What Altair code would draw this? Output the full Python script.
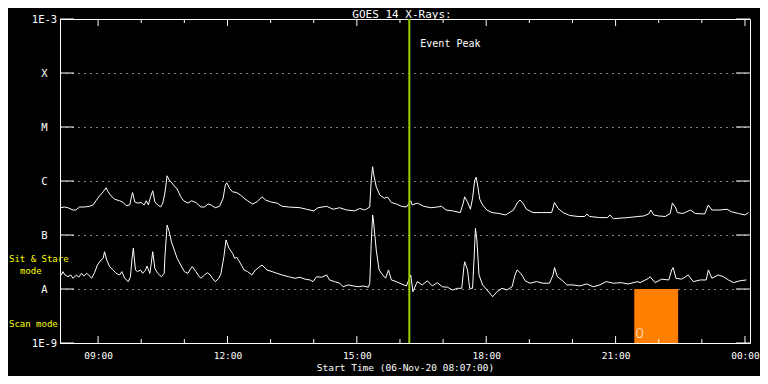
import altair as alt
import pandas as pd

START = pd.Timestamp("2020-11-06 08:07:00")

# Long channel (upper curve): minutes after start, flux in W/m^2
upper_minutes = [
    1, 6, 11, 18, 22, 27, 34, 41, 46, 50,
    55, 60, 64, 67, 71, 76, 83, 88, 92, 97,
    99, 101, 104, 108, 113, 117, 120, 123, 126, 129,
    132, 136, 140, 143, 146, 149, 152, 157, 158, 163,
    168, 172, 178, 183, 189, 196, 201, 206, 210, 216,
    222, 227, 230, 232, 236, 240, 246, 251, 256, 261,
    268, 274, 281, 286, 293, 302, 309, 318, 334, 343,
    353, 359, 371, 380, 389, 399, 410, 417, 424, 431,
    433, 435, 436, 440, 445, 451, 456, 461, 468, 475,
    482, 488, 490, 497, 506, 516, 525, 531, 537, 546,
    557, 561, 563, 567, 571, 574, 577, 579, 581, 584,
    588, 594, 601, 611, 620, 627, 631, 636, 640, 644,
    649, 658, 670, 684, 688, 693, 700, 709, 721, 730,
    733, 737, 751, 762, 765, 770, 779, 790, 804, 812,
    819, 822, 826, 833, 842, 849, 852, 856, 859, 867,
    877, 884, 897, 902, 907, 918, 928, 934, 944, 953, 958,
]
upper_flux = [
    3.2e-7, 3.3e-7, 3.2e-7, 2.9e-7, 2.9e-7, 3.3e-7, 3.3e-7, 3.4e-7, 3.6e-7, 4.3e-7,
    5.3e-7, 6.3e-7, 7.5e-7, 6.3e-7, 5.3e-7, 4.6e-7, 4.3e-7, 4.0e-7, 3.5e-7, 3.6e-7,
    4.8e-7, 6.1e-7, 4.1e-7, 3.9e-7, 4.0e-7, 3.6e-7, 4.3e-7, 3.6e-7, 5.1e-7, 6.6e-7,
    4.1e-7, 3.6e-7, 3.3e-7, 3.9e-7, 6.0e-7, 1.25e-6, 1.04e-6, 8.8e-7, 8.4e-7, 7.1e-7,
    5.1e-7, 4.3e-7, 3.9e-7, 4.3e-7, 4.0e-7, 3.3e-7, 3.3e-7, 3.75e-7, 3.6e-7, 3.2e-7,
    3.4e-7, 4.8e-7, 8.4e-7, 9.3e-7, 7.3e-7, 6.3e-7, 6.1e-7, 5.5e-7, 4.8e-7, 4.3e-7,
    3.75e-7, 4.1e-7, 5.1e-7, 4.45e-7, 4.1e-7, 3.9e-7, 3.4e-7, 3.3e-7, 3.2e-7, 3.0e-7,
    2.8e-7, 3.2e-7, 3.4e-7, 3.0e-7, 3.2e-7, 2.9e-7, 2.8e-7, 3.1e-7, 2.9e-7, 3.3e-7,
    1.04e-6, 1.84e-6, 1.42e-6, 7.8e-7, 5.5e-7, 4.8e-7, 5.0e-7, 4.0e-7, 3.75e-7, 3.4e-7,
    3.3e-7, 4.3e-7, 3.6e-7, 3.9e-7, 3.4e-7, 3.2e-7, 3.3e-7, 3.4e-7, 2.9e-7, 2.8e-7,
    2.6e-7, 3.9e-7, 5.1e-7, 4.1e-7, 3.0e-7, 4.8e-7, 1.04e-6, 1.17e-6, 8.4e-7, 4.6e-7,
    3.6e-7, 2.9e-7, 2.6e-7, 2.5e-7, 2.35e-7, 2.7e-7, 2.9e-7, 3.9e-7, 4.45e-7, 3.9e-7,
    3.0e-7, 2.6e-7, 2.6e-7, 2.6e-7, 4.0e-7, 3.1e-7, 2.6e-7, 2.3e-7, 2.2e-7, 2.2e-7,
    2.45e-7, 2.2e-7, 2.1e-7, 2.1e-7, 2.35e-7, 2.0e-7, 2.05e-7, 2.1e-7, 2.2e-7, 2.25e-7,
    2.45e-7, 2.9e-7, 2.35e-7, 2.25e-7, 2.2e-7, 2.5e-7, 3.9e-7, 3.3e-7, 2.6e-7, 2.5e-7,
    2.9e-7, 2.5e-7, 2.45e-7, 3.6e-7, 2.9e-7, 2.9e-7, 3.0e-7, 2.7e-7, 2.5e-7, 2.35e-7, 2.6e-7,
]

# Short channel (lower curve)
lower_minutes = [
    2, 4, 7, 11, 15, 18, 23, 26, 30, 33,
    37, 40, 44, 48, 52, 57, 60, 62, 65, 69,
    74, 78, 83, 86, 90, 95, 98, 100, 102, 105,
    108, 112, 115, 119, 121, 125, 127, 129, 132, 136,
    141, 145, 146, 149, 152, 155, 159, 163, 168, 173,
    178, 182, 184, 189, 193, 196, 201, 205, 209, 212,
    216, 221, 224, 228, 231, 235, 240, 243, 246, 251,
    256, 261, 267, 272, 281, 288, 295, 302, 309, 318,
    327, 334, 341, 348, 352, 357, 364, 371, 375, 382,
    389, 394, 401, 408, 415, 422, 429, 431, 433, 435,
    436, 440, 444, 449, 453, 457, 461, 468, 475, 482,
    488, 491, 497, 504, 511, 518, 525, 532, 539, 546,
    553, 559, 562, 563, 567, 570, 574, 576, 578, 580,
    583, 588, 594, 602, 608, 615, 622, 629, 633, 636,
    641, 644, 647, 654, 663, 672, 681, 686, 688, 692,
    698, 705, 714, 723, 733, 742, 751, 760, 770, 781,
    790, 804, 807, 819, 821, 828, 837, 847, 851, 853,
    857, 865, 874, 881, 891, 899, 902, 907, 916, 923,
    930, 937, 946, 955,
]
lower_flux = [
    1.82e-8, 2.1e-8, 1.82e-8, 1.69e-8, 1.82e-8, 1.58e-8, 1.82e-8, 1.65e-8, 1.95e-8, 1.74e-8,
    1.95e-8, 1.82e-8, 1.58e-8, 2.0e-8, 2.78e-8, 3.44e-8, 3.7e-8, 4.9e-8, 3.44e-8, 2.6e-8,
    2.25e-8, 1.95e-8, 1.82e-8, 2.1e-8, 1.58e-8, 1.37e-8, 1.69e-8, 3.44e-8, 5.7e-8, 2.25e-8,
    2.1e-8, 2.25e-8, 1.95e-8, 2.25e-8, 2.67e-8, 1.95e-8, 3.0e-8, 4.9e-8, 2.4e-8, 1.95e-8,
    1.69e-8, 1.95e-8, 3.97e-8, 1.53e-7, 1.15e-7, 7.5e-8, 5.27e-8, 3.7e-8, 2.78e-8, 2.1e-8,
    1.95e-8, 2.4e-8, 2.6e-8, 2.1e-8, 1.74e-8, 1.58e-8, 1.82e-8, 2.0e-8, 1.82e-8, 1.58e-8,
    1.37e-8, 1.58e-8, 1.95e-8, 3.97e-8, 8.1e-8, 5.7e-8, 4.6e-8, 3.7e-8, 3.86e-8, 3.0e-8,
    2.25e-8, 2.1e-8, 1.82e-8, 2.25e-8, 2.78e-8, 2.25e-8, 2.1e-8, 1.95e-8, 1.82e-8, 1.69e-8,
    1.58e-8, 1.65e-8, 1.52e-8, 1.47e-8, 1.37e-8, 1.69e-8, 1.65e-8, 1.82e-8, 1.47e-8, 1.37e-8,
    1.28e-8, 1.1e-8, 1.19e-8, 1.14e-8, 1.1e-8, 1.14e-8, 1.08e-8, 1.28e-8, 7.0e-8, 2.34e-7,
    1.9e-7, 5.27e-8, 2.25e-8, 1.82e-8, 1.58e-8, 2.25e-8, 1.47e-8, 1.37e-8, 1.24e-8, 1.14e-8,
    1.82e-8, 8.9e-9, 1.37e-8, 1.19e-8, 1.42e-8, 1.14e-8, 1.31e-8, 1.1e-8, 1.08e-8, 9.6e-9,
    1.03e-8, 1.03e-8, 2.6e-8, 3.2e-8, 2.25e-8, 1.03e-8, 1.03e-8, 3.44e-8, 1.33e-7, 8.1e-8,
    1.82e-8, 1.19e-8, 9.6e-9, 7.2e-9, 8.9e-9, 1.03e-8, 9.6e-9, 1.1e-8, 1.82e-8, 2.25e-8,
    1.95e-8, 1.69e-8, 1.42e-8, 1.28e-8, 1.37e-8, 1.28e-8, 1.28e-8, 1.82e-8, 2.5e-8, 1.69e-8,
    1.47e-8, 1.19e-8, 1.19e-8, 1.14e-8, 1.24e-8, 1.1e-8, 1.19e-8, 1.37e-8, 1.28e-8, 1.31e-8,
    1.24e-8, 1.37e-8, 1.31e-8, 1.58e-8, 1.69e-8, 1.31e-8, 1.52e-8, 1.47e-8, 2.25e-8, 2.5e-8,
    1.58e-8, 1.52e-8, 1.82e-8, 1.37e-8, 1.47e-8, 1.47e-8, 2.25e-8, 1.58e-8, 1.82e-8, 1.69e-8,
    1.47e-8, 1.31e-8, 1.42e-8, 1.47e-8,
]

level_values = [1e-9, 1e-8, 1e-7, 1e-6, 1e-5, 1e-4, 1e-3]
level_labels = ["1E-9", "A", "B", "C", "M", "X", "1E-3"]

major_hours = ["2020-11-06T09:00:00", "2020-11-06T12:00:00", "2020-11-06T15:00:00",
               "2020-11-06T18:00:00", "2020-11-06T21:00:00", "2020-11-07T00:00:00"]
minor_hours = ["2020-11-06T10:00:00", "2020-11-06T11:00:00", "2020-11-06T13:00:00",
               "2020-11-06T14:00:00", "2020-11-06T16:00:00", "2020-11-06T17:00:00",
               "2020-11-06T19:00:00", "2020-11-06T20:00:00", "2020-11-06T22:00:00",
               "2020-11-06T23:00:00"]
peak_time = "2020-11-06T16:13:00"
scan_start = "2020-11-06T21:26:00"
scan_end = "2020-11-06T22:27:00"

W, H = 690, 324
FONT = "DejaVu Sans Mono"
XTITLE = "Start Time (06-Nov-20 08:07:00)"


def ts(minutes):
    return [(START + pd.Timedelta(minutes=m)).strftime("%Y-%m-%dT%H:%M:%S") for m in minutes]


curves = pd.concat([
    pd.DataFrame({"t": ts(upper_minutes), "f": upper_flux, "s": "long"}),
    pd.DataFrame({"t": ts(lower_minutes), "f": lower_flux, "s": "short"}),
])

xdomain = [alt.DateTime(year=2020, month=11, date=6, hours=8, minutes=7),
           alt.DateTime(year=2020, month=11, date=7, hours=0, minutes=7)]
xscale = alt.Scale(domain=xdomain)
yscale = alt.Scale(type="log", domain=[1e-9, 1e-3])

label_expr = " : ".join(
    f"datum.value < {v * 3:.0e} ? '{l}'" for v, l in zip(level_values[:-1], level_labels[:-1])
) + f" : '{level_labels[-1]}'"

x_axis = alt.Axis(values=[alt.DateTime(year=2020, month=11, date=6, hours=h) for h in (9, 12, 15, 18, 21)]
                  + [alt.DateTime(year=2020, month=11, date=7, hours=0)],
                  format="%H:%M", labelFlush=False, grid=False, ticks=False, domain=False,
                  labelPadding=7, labelFontSize=9.5, labelColor="white", labelFont=FONT,
                  titleFont=FONT, titleFontSize=9.5, titleFontWeight="normal",
                  titleColor="white", titlePadding=3)
y_axis = alt.Axis(values=level_values, labelExpr=label_expr, labelAlign="center",
                  labelBaseline="middle", labelPadding=16, labelFlush=True,
                  ticks=False, domain=False, grid=True, gridColor="white",
                  gridDash=[1, 5], gridWidth=1, labelColor="white",
                  labelFont=FONT, labelFontSize=10.5)


def X(field="t"):
    return alt.X(f"{field}:T", scale=xscale, title=XTITLE, axis=x_axis)


def Y(field="f"):
    return alt.Y(f"{field}:Q", scale=yscale, title=None, axis=y_axis)


base = alt.Chart(curves).mark_line(color="white", strokeWidth=1, clip=True).encode(
    x=X(), y=Y(), detail="s:N")

ticks_major = pd.DataFrame({"t": major_hours})
ticks_minor = pd.DataFrame({"t": minor_hours})


def xticks(df, y0, y1):
    return alt.Chart(df).mark_rule(color="white", strokeWidth=1).encode(
        x=X(), y=alt.value(y0), y2=alt.value(y1))


levels_df = pd.DataFrame({"f": level_values})


def yticks(x0, x1):
    return alt.Chart(levels_df).mark_rule(color="white", strokeWidth=1).encode(
        y=Y(), x=alt.value(x0), x2=alt.value(x1))


scan = alt.Chart(pd.DataFrame({"t": [scan_start], "t2": [scan_end], "f": [1e-9], "f2": [1e-8]})).mark_rect(
    color="#ff8000").encode(x=X(), x2="t2:T", y=Y(), y2="f2:Q")

scan_txt = alt.Chart(pd.DataFrame({"t": [scan_start], "txt": ["0"]})).mark_text(
    color="white", font="DejaVu Sans", fontWeight=200, fontSize=14, align="left",
    baseline="alphabetic", dx=1).encode(
    x=X(), y=alt.value(H - 5), text="txt:N")

peak = alt.Chart(pd.DataFrame({"t": [peak_time]})).mark_rule(color="#9acd00", strokeWidth=2).encode(
    x=X(), y=alt.value(0), y2=alt.value(H))

peak_txt = alt.Chart(pd.DataFrame({"t": [peak_time], "txt": ["Event Peak"]})).mark_text(
    color="white", font=FONT, fontSize=10, align="left", baseline="middle", dx=11).encode(
    x=X(), y=alt.value(25), text="txt:N")


def label(txt, x, y, color="white", size=10, align="left", baseline="middle"):
    return alt.Chart(pd.DataFrame({"txt": [txt]})).mark_text(
        color=color, font=FONT, fontSize=size, align=align, baseline=baseline).encode(
        x=alt.value(x), y=alt.value(y), text="txt:N")


chart = alt.layer(
    base,
    scan,
    scan_txt,
    peak,
    peak_txt,
    xticks(ticks_major, H, H - 7), xticks(ticks_minor, H, H - 4),
    xticks(ticks_major, 0, 7), xticks(ticks_minor, 0, 4),
    yticks(0, 14), yticks(W - 14, W),
    label("GOES 14 X-Rays:", W / 2 - 3, -1.5, size=11, align="center", baseline="alphabetic"),
    label("Sit & Stare", -51, 240, color="#ffff00", size=9),
    label("mode", -40, 252, color="#ffff00", size=9),
    label("Scan mode", -51, 305, color="#ffff00", size=9),
).properties(
    width=W, height=H,
    padding={"left": 52, "top": 11, "right": 10, "bottom": 33},
    autosize=alt.AutoSizeParams(type="none"),
).configure(background="black").configure_view(stroke="white", strokeWidth=1)

chart.save("out.html", embed_options={"renderer": "svg", "actions": False})
